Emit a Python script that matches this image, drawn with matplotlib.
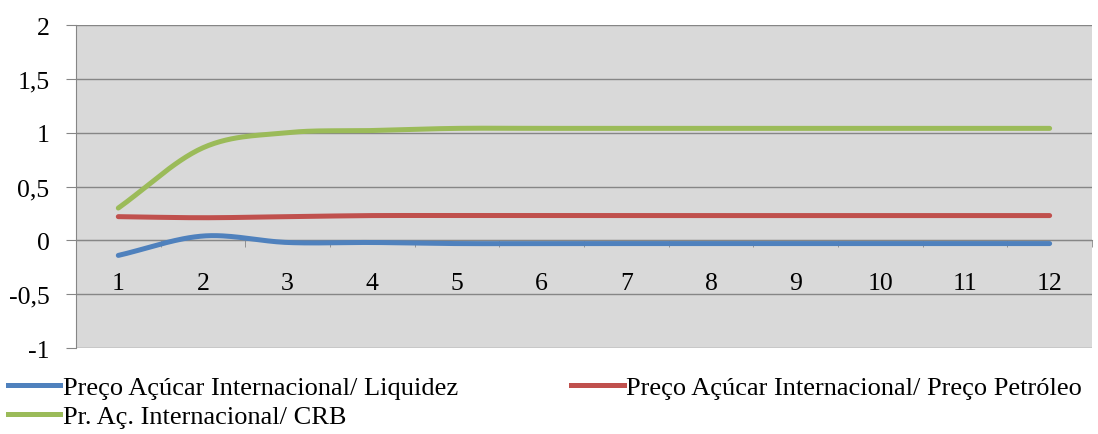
import matplotlib
matplotlib.use("Agg")
import matplotlib.pyplot as plt
import numpy as np
from matplotlib.ticker import FixedLocator, FuncFormatter
from matplotlib.lines import Line2D

plt.rcParams['font.family'] = ['Liberation Serif', 'DejaVu Serif']

periodos = [1, 2, 3, 4, 5, 6, 7, 8, 9, 10, 11, 12]
liquidez = [-0.14, 0.04, -0.02, -0.02, -0.03, -0.03, -0.03, -0.03, -0.03, -0.03, -0.03, -0.03]
petroleo = [0.22, 0.21, 0.22, 0.23, 0.23, 0.23, 0.23, 0.23, 0.23, 0.23, 0.23, 0.23]
crb = [0.30, 0.86, 1.00, 1.02, 1.04, 1.04, 1.04, 1.04, 1.04, 1.04, 1.04, 1.04]
nomes = ["Preço Açúcar Internacional/ Liquidez",
         "Preço Açúcar Internacional/ Preço Petróleo",
         "Pr. Aç. Internacional/ CRB"]
cores = ["#4F81BD", "#C0504D", "#9BBB59"]


def suaviza(x, y, n=30):
    # curva suavizada (Catmull-Rom) passando pelos pontos
    x = np.asarray(x, float)
    y = np.asarray(y, float)
    px = np.concatenate([[2 * x[0] - x[1]], x, [2 * x[-1] - x[-2]]])
    py = np.concatenate([[2 * y[0] - y[1]], y, [2 * y[-1] - y[-2]]])
    xs, ys = [], []
    t = np.linspace(0, 1, n, endpoint=False)
    for i in range(1, len(px) - 2):
        for p, out in ((px, xs), (py, ys)):
            p0, p1, p2, p3 = p[i - 1], p[i], p[i + 1], p[i + 2]
            out.extend(0.5 * ((2 * p1) + (-p0 + p2) * t
                              + (2 * p0 - 5 * p1 + 4 * p2 - p3) * t ** 2
                              + (-p0 + 3 * p1 - 3 * p2 + p3) * t ** 3))
    xs.append(x[-1])
    ys.append(y[-1])
    return xs, ys


fig = plt.figure(figsize=(10.98, 4.35), dpi=100)
ax = fig.add_axes([0.0692, 0.1977, 0.9253, 0.7425])
ax.set_facecolor("#D9D9D9")

for serie, cor in zip([liquidez, petroleo, crb], cores):
    xs, ys = suaviza(periodos, serie)
    ax.plot(xs, ys, color=cor, lw=3.6, solid_capstyle='round', zorder=3)

ax.set_xlim(0.5, 12.5)
ax.set_ylim(-1, 2)

grid_cor = "#868686"
ax.set_yticks(np.arange(-1, 2.01, 0.5))
ax.yaxis.set_major_formatter(FuncFormatter(lambda v, p: ("%g" % v).replace(".", ",")))
ax.grid(axis='y', color=grid_cor, lw=1)
ax.set_axisbelow(True)

for s in ['top', 'right']:
    ax.spines[s].set_visible(False)
ax.spines['left'].set_color(grid_cor)
ax.spines['bottom'].set_color(grid_cor)
ax.spines['bottom'].set_position(('data', 0))

ax.set_xticks(periodos)
ax.xaxis.set_minor_locator(FixedLocator(np.arange(0.5, 12.6, 1)))
ax.tick_params(axis='x', which='major', length=0, pad=23, labelsize=18.5)
ax.tick_params(axis='x', which='minor', length=5, color=grid_cor, direction='out')
ax.tick_params(axis='y', length=7, color=grid_cor, pad=12, labelsize=18.5)

# ordem das entradas: duas colunas, preenchidas por coluna
ordem = [0, 2, 1]
handles = [Line2D([], [], color=cores[i], lw=3.6) for i in ordem]
fig.legend(handles, [nomes[i] for i in ordem], loc='upper left',
           bbox_to_anchor=(0.007, 0.134), ncol=2, frameon=False,
           fontsize=19, handlelength=2.0, handletextpad=0.08,
           columnspacing=4.3, labelspacing=0.22,
           borderaxespad=0, borderpad=0.0)

fig.savefig("out.png", dpi=100, facecolor="white")
